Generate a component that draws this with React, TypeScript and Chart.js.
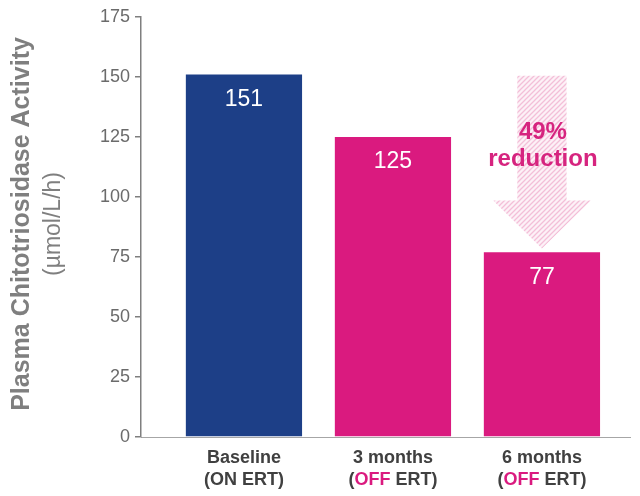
import React, { useEffect, useRef } from 'react';
import { Chart, registerables } from 'chart.js';

Chart.register(...registerables);

const categories = ['Baseline', '3 months', '6 months'];
const statusWords = ['ON', 'OFF', 'OFF'];
const values = [151, 125, 77];
const barColors = ['#1d3f87', '#da1a7f', '#da1a7f'];
const statusColors = ['#404040', '#da1a7f', '#da1a7f'];
const yTickValues = [0, 25, 50, 75, 100, 125, 150, 175];
const annotationLines = ['49%', 'reduction'];
const yTitle = 'Plasma Chitotriosidase Activity';
const yUnit = '(µmol/L/h)';

const FONT = "'Liberation Sans', Arial, Helvetica, sans-serif";

function makeHatch(): CanvasPattern | string {
  const c = document.createElement('canvas');
  c.width = 5;
  c.height = 5;
  const g = c.getContext('2d');
  if (!g) return '#f6d0e2';
  g.fillStyle = '#fdf1f7';
  g.fillRect(0, 0, 5, 5);
  g.strokeStyle = '#f3bfd8';
  g.lineWidth = 1.3;
  g.beginPath();
  g.moveTo(-1, 6);
  g.lineTo(6, -1);
  g.moveTo(-1, 1);
  g.lineTo(1, -1);
  g.moveTo(4, 6);
  g.lineTo(6, 4);
  g.stroke();
  const ctx2 = document.createElement('canvas').getContext('2d');
  return (ctx2 && ctx2.createPattern(c, 'repeat')) || '#f6d0e2';
}

const overlayPlugin = {
  id: 'overlay',
  beforeDatasetsDraw(chart: any) {
    const { ctx } = chart;
    const xs = chart.scales.x;
    const ys = chart.scales.y;
    const meta = chart.getDatasetMeta(0);
    const bw = meta.data[2].width;
    const cx = xs.getPixelForValue(2);
    const top = ys.getPixelForValue(values[0] - 0.5);
    const tip = ys.getPixelForValue(values[2] + 1.5);
    const headH = 48;
    const shaftHalf = bw * 0.212;
    const headHalf = bw * 0.42;
    ctx.save();
    ctx.fillStyle = makeHatch();
    ctx.beginPath();
    ctx.moveTo(cx - shaftHalf, top);
    ctx.lineTo(cx + shaftHalf, top);
    ctx.lineTo(cx + shaftHalf, tip - headH);
    ctx.lineTo(cx + headHalf, tip - headH);
    ctx.lineTo(cx, tip);
    ctx.lineTo(cx - headHalf, tip - headH);
    ctx.lineTo(cx - shaftHalf, tip - headH);
    ctx.closePath();
    ctx.fill();
    ctx.restore();
  },
  afterDatasetsDraw(chart: any) {
    const { ctx, chartArea } = chart;
    const xs = chart.scales.x;
    const ys = chart.scales.y;
    ctx.save();
    // value labels
    ctx.fillStyle = '#ffffff';
    ctx.font = `23px ${FONT}`;
    ctx.textAlign = 'center';
    ctx.textBaseline = 'middle';
    values.forEach((v, i) => {
      ctx.fillText(String(v), xs.getPixelForValue(i), ys.getPixelForValue(v) + 25);
    });
    // annotation
    ctx.fillStyle = '#d6247f';
    ctx.font = `bold 24px ${FONT}`;
    const ax = xs.getPixelForValue(2) + 1;
    const ay = ys.getPixelForValue(values[1]) - 5;
    annotationLines.forEach((t, k) => {
      ctx.fillText(t, ax, ay + k * 27);
    });
    // x labels
    ctx.font = `bold 18px ${FONT}`;
    categories.forEach((c, i) => {
      const x = xs.getPixelForValue(i);
      ctx.textAlign = 'center';
      ctx.fillStyle = '#404040';
      ctx.fillText(c, x, chartArea.bottom + 21);
      const parts = [
        { t: '(', c: '#404040' },
        { t: statusWords[i], c: statusColors[i] },
        { t: ' ERT)', c: '#404040' },
      ];
      const total = parts.reduce((s, p) => s + ctx.measureText(p.t).width, 0);
      let px = x - total / 2;
      ctx.textAlign = 'left';
      parts.forEach((p) => {
        ctx.fillStyle = p.c;
        ctx.fillText(p.t, px, chartArea.bottom + 43);
        px += ctx.measureText(p.t).width;
      });
    });
    // y title
    const cy = (chartArea.top + chartArea.bottom) / 2 - 3;
    ctx.translate(chartArea.left - 119, cy);
    ctx.rotate(-Math.PI / 2);
    ctx.textAlign = 'center';
    ctx.fillStyle = '#7f7f7f';
    ctx.font = `bold 25px ${FONT}`;
    ctx.fillText(yTitle, 0, 0);
    ctx.font = `23px ${FONT}`;
    ctx.fillText(yUnit, 0, 32);
    ctx.restore();
  },
};

export default function App() {
  const ref = useRef<HTMLCanvasElement | null>(null);
  useEffect(() => {
    if (!ref.current) return;
    const chart = new Chart(ref.current, {
      type: 'bar',
      data: {
        datasets: [
          {
            data: values.map((v, i) => ({ x: i, y: v })),
            backgroundColor: barColors,
            borderWidth: 0,
            barPercentage: 0.78,
            categoryPercentage: 1,
          },
        ],
      },
      options: {
        responsive: false,
        animation: false,
        layout: { padding: { left: 0, right: 10, top: 17, bottom: 0 } },
        plugins: { legend: { display: false }, tooltip: { enabled: false } },
        scales: {
          x: {
            type: 'linear',
            offset: false,
            min: -0.691,
            max: 2.591,
            afterBuildTicks: (s: any) => {
              s.ticks = categories.map((_, i) => ({ value: i }));
            },
            grid: { display: false, offset: false },
            ticks: { display: false },
            border: { display: true, color: '#a6a6a6', width: 1 },
            afterFit: (s: any) => {
              s.height = 59;
            },
          },
          y: {
            min: 0,
            max: 175,
            afterBuildTicks: (s: any) => {
              s.ticks = yTickValues.map((v) => ({ value: v }));
            },
            ticks: {
              color: '#6b6b6b',
              font: { family: FONT, size: 18 },
              padding: 5,
            },
            grid: {
              display: true,
              drawOnChartArea: false,
              drawTicks: true,
              tickLength: 6,
              color: '#7f7f7f',
              lineWidth: 1.5,
            },
            border: { display: true, color: '#7f7f7f', width: 1.5 },
            afterFit: (s: any) => {
              s.width = 141;
            },
          },
        },
      },
      plugins: [overlayPlugin],
    });
    return () => chart.destroy();
  }, []);
  return (
    <div style={{ position: 'absolute', left: 0, top: 0, width: 640, height: 496, background: '#fff' }}>
      <canvas ref={ref} width={640} height={496} style={{ display: 'block' }} />
    </div>
  );
}
